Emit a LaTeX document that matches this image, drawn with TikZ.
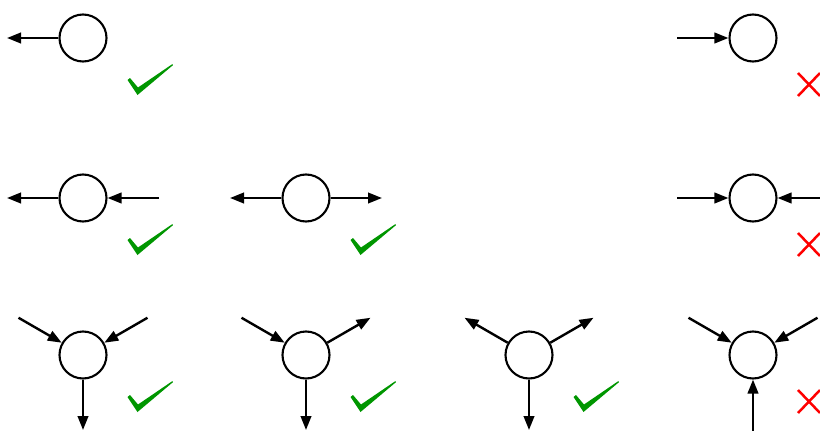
\documentclass[tikz,border=0pt]{standalone}
\usetikzlibrary{arrows.meta}
\definecolor{okgreen}{RGB}{0,150,0}
\definecolor{nored}{RGB}{255,0,0}
\begin{document}
\begin{tikzpicture}[x=1pt,y=-1pt,
  vtx/.style={circle,draw,line width=2.1pt,minimum size=47pt,inner sep=0pt},
  arr/.style={line width=2.4pt,-{Triangle[length=14pt,width=10.5pt]}},
  chk/.pic={\fill[okgreen] (44.5,42) -- (47,40) -- (55,49.5) -- (89.5,26) -- (89.8,27.3) -- (54.5,57) -- cycle;},
  crs/.pic={\draw[nored,line width=2.5pt] (45,35) -- (67,58) (45,58) -- (67,35);}]
\useasboundingbox (0,0) rectangle (820,431);
% row 1
\node[vtx] (a1) at (83,38) {};
\node[vtx] (a2) at (753,38) {};
\coordinate (a1L) at (7,38);
\coordinate (a2L) at (677,38);
\draw[arr] (a1) -- (a1L);
\draw[arr] (a2L) -- (a2);
\pic at (83,38) {chk};
\pic at (753,38) {crs};
% row 2
\node[vtx] (b1) at (83,198) {};
\node[vtx] (b2) at (306,198) {};
\node[vtx] (b3) at (753,198) {};
\coordinate (b1L) at (7,198);
\coordinate (b1R) at (159,198);
\coordinate (b2L) at (230,198);
\coordinate (b2R) at (382,198);
\coordinate (b3L) at (677,198);
\coordinate (b3R) at (821,198);
\draw[arr] (b1) -- (b1L);
\draw[arr] (b1R) -- (b1);
\draw[arr] (b2) -- (b2L);
\draw[arr] (b2) -- (b2R);
\draw[arr] (b3L) -- (b3);
\draw[arr] (b3R) -- (b3);
\pic at (83,198) {chk};
\pic at (306,198) {chk};
\pic at (753,198) {crs};
% row 3
\node[vtx] (c1) at (83,355) {};
\node[vtx] (c2) at (306,355) {};
\node[vtx] (c3) at (529,355) {};
\node[vtx] (c4) at (753,355) {};
\coordinate (c1UL) at (18.5,317.75);
\coordinate (c1UR) at (147.5,317.75);
\coordinate (c1D) at (83,430);
\coordinate (c2UL) at (241.5,317.75);
\coordinate (c2UR) at (370.5,317.75);
\coordinate (c2D) at (306,430);
\coordinate (c3UL) at (464.5,317.75);
\coordinate (c3UR) at (593.5,317.75);
\coordinate (c3D) at (529,430);
\coordinate (c4UL) at (688.5,317.75);
\coordinate (c4UR) at (817.5,317.75);
\coordinate (c4D) at (753,432);
\draw[arr] (c1UL) -- (c1);
\draw[arr] (c1UR) -- (c1);
\draw[arr] (c1) -- (c1D);
\draw[arr] (c2UL) -- (c2);
\draw[arr] (c2) -- (c2UR);
\draw[arr] (c2) -- (c2D);
\draw[arr] (c3) -- (c3UL);
\draw[arr] (c3) -- (c3UR);
\draw[arr] (c3) -- (c3D);
\draw[arr] (c4UL) -- (c4);
\draw[arr] (c4UR) -- (c4);
\draw[arr] (c4D) -- (c4);
\pic at (83,355) {chk};
\pic at (306,355) {chk};
\pic at (529,355) {chk};
\pic at (753,355) {crs};
\end{tikzpicture}
\end{document}
